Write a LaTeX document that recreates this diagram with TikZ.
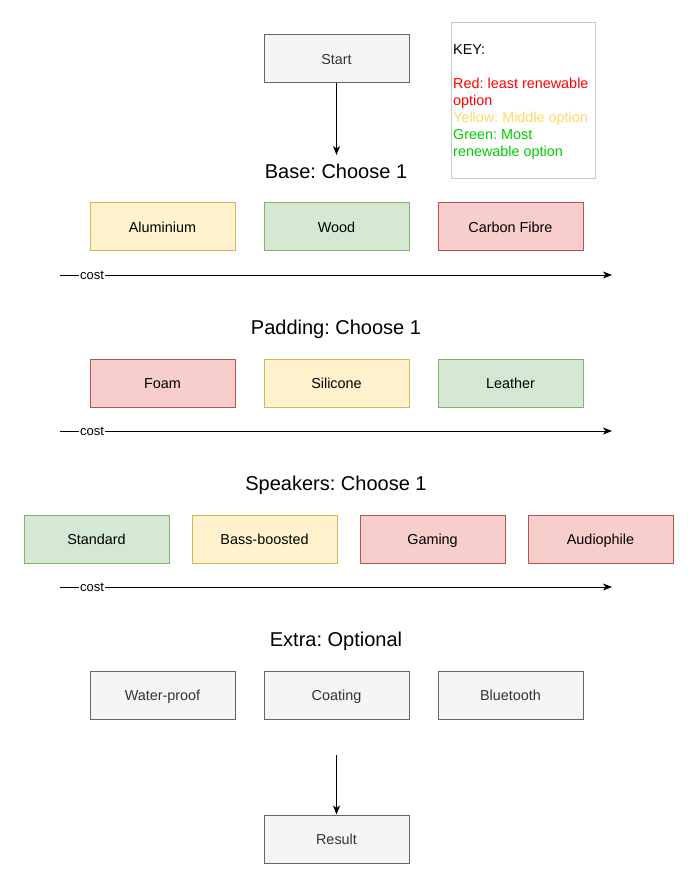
\documentclass[tikz,border=0pt]{standalone}
\usepackage{fontspec}
\setmainfont{Liberation Sans}
\usetikzlibrary{arrows.meta,positioning}

\definecolor{redfill}{HTML}{F8CECC}
\definecolor{redline}{HTML}{B85450}
\definecolor{yellowfill}{HTML}{FFF2CC}
\definecolor{yellowline}{HTML}{D6B656}
\definecolor{greenfill}{HTML}{D5E8D4}
\definecolor{greenline}{HTML}{82B366}
\definecolor{greyfill}{HTML}{F5F5F5}
\definecolor{greyline}{HTML}{666666}
\definecolor{greytext}{HTML}{333333}
\definecolor{keyline}{HTML}{C8C8C8}
\definecolor{keyred}{HTML}{FF0000}
\definecolor{keyyellow}{HTML}{FFD966}
\definecolor{keygreen}{HTML}{00CC00}

\tikzset{
  optbox/.style={draw,line width=1pt,minimum width=145pt,minimum height=48pt,
    inner sep=0pt,text height=10.3pt,text depth=0pt,
    font=\fontsize{14.4}{17}\selectfont},
  redbox/.style={optbox,fill=redfill,draw=redline},
  yellowbox/.style={optbox,fill=yellowfill,draw=yellowline},
  greenbox/.style={optbox,fill=greenfill,draw=greenline},
  greybox/.style={optbox,fill=greyfill,draw=greyline,text=greytext},
  heading/.style={font=\fontsize{20}{24}\selectfont,inner sep=0pt,
    text height=14.3pt,text depth=0pt},
  keybox/.style={draw=keyline,line width=1pt,minimum width=144pt,minimum height=156pt},
  flow/.style={line width=1pt,-{Stealth[length=9pt,width=7pt,inset=2.5pt]}},
  costlabel/.style={font=\fontsize{13}{15}\selectfont,fill=white,inner sep=1pt}
}

\begin{document}
\frenchspacing
\begin{tikzpicture}[x=1pt,y=-1pt]
    \useasboundingbox[fill=white] (0,0) rectangle (698,890);

    % start and key
    \node[greybox] (start) at (336.5,59) {Start};
    \node[keybox] (key) at (523,101) {};
    \node[anchor=north west,align=left,inner sep=0pt,
      font=\fontsize{14.4}{17}\selectfont] (keytext) at (453,44.3)
      {KEY:\\[17pt]
       \textcolor{keyred}{Red: least renewable}\\
       \textcolor{keyred}{option}\\
       \textcolor{keyyellow}{Yellow: Middle option}\\
       \textcolor{keygreen}{Green: Most}\\
       \textcolor{keygreen}{renewable option}};

    % base
    \node[heading] (base) at (336,171.2) {Base: Choose 1};
    \coordinate (basein) at (336.5,155);
    \draw[flow] (start) -- (basein);
    \node[yellowbox] (alu) at (162.5,227) {Aluminium};
    \node[greenbox] (wood) at (336.5,227) {Wood};
    \node[redbox] (carbon) at (510.5,227) {Carbon Fibre};
    \coordinate (cost1a) at (60,275);
    \coordinate (cost1b) at (612,275);
    \draw[flow] (cost1a) -- (cost1b);
    \node[costlabel] (cost1) at (92,275) {cost};

    % padding
    \node[heading] (padding) at (336,327.2) {Padding: Choose 1};
    \node[redbox] (foam) at (162.5,383) {Foam};
    \node[yellowbox] (silicone) at (336.5,383) {Silicone};
    \node[greenbox] (leather) at (510.5,383) {Leather};
    \coordinate (cost2a) at (60,431);
    \coordinate (cost2b) at (612,431);
    \draw[flow] (cost2a) -- (cost2b);
    \node[costlabel] (cost2) at (92,431) {cost};

    % speakers
    \node[heading] (speakers) at (336,483.2) {Speakers: Choose 1};
    \node[greenbox] (standard) at (96.5,539) {Standard};
    \node[yellowbox] (bass) at (264.5,539) {Bass-boosted};
    \node[redbox] (gaming) at (432.5,539) {Gaming};
    \node[redbox] (audio) at (600.5,539) {Audiophile};
    \coordinate (cost3a) at (60,587);
    \coordinate (cost3b) at (612,587);
    \draw[flow] (cost3a) -- (cost3b);
    \node[costlabel] (cost3) at (92,587) {cost};

    % extras
    \node[heading] (extra) at (336,639.2) {Extra: Optional};
    \node[greybox] (water) at (162.5,695) {Water-proof};
    \node[greybox] (coating) at (336.5,695) {Coating};
    \node[greybox] (bluetooth) at (510.5,695) {Bluetooth};

    % result
    \node[greybox] (result) at (336.5,839) {Result};
    \coordinate (extraout) at (336.5,755);
    \draw[flow] (extraout) -- (result);
\end{tikzpicture}
\end{document}
